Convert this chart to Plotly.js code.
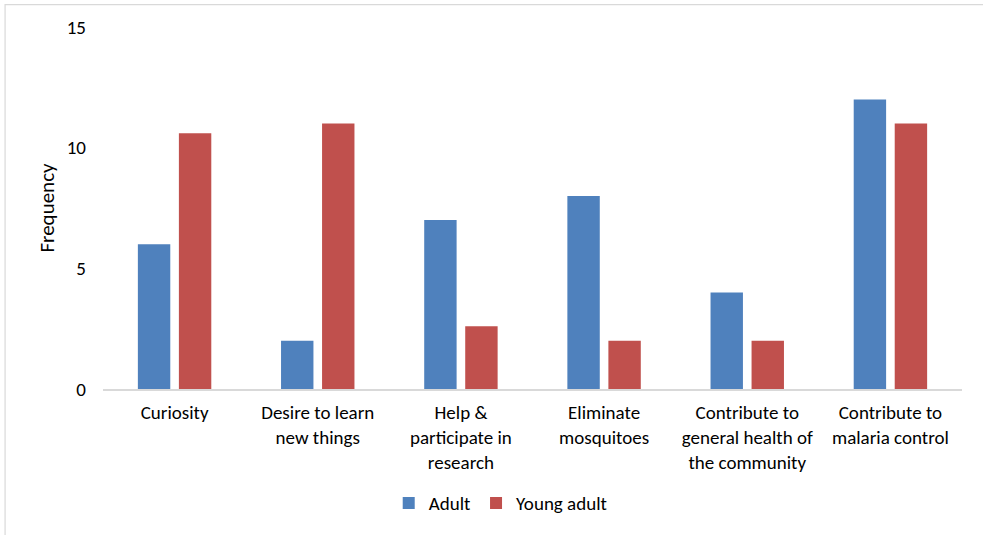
<!DOCTYPE html>
<html>
<head>
<meta charset="utf-8">
<script src="https://cdn.plot.ly/plotly-3.0.1.min.js"></script>
<style>
  html, body { margin: 0; padding: 0; background: #ffffff; }
  #chart { width: 983px; height: 535px; }
</style>
</head>
<body>
<div id="chart"></div>
<script>
// Reasons for taking part, by age group
const categories = [
  "Curiosity",
  "Desire to learn<br>new things",
  "Help &amp;<br>participate in<br>research",
  "Eliminate<br>mosquitoes",
  "Contribute to<br>general health of<br>the community",
  "Contribute to<br>malaria control"
];
const adultValues = [6, 2, 7, 8, 4, 12];
const youngAdultValues = [10.6, 11, 2.6, 2, 2, 11];
const yTickValues = [0, 5, 10, 15];

const FONT = "Calibri, Carlito, 'Liberation Sans', Arial, sans-serif";
const FS = 19;

const traces = [
  {
    type: "bar",
    name: "Adult",
    x: categories,
    y: adultValues,
    marker: { color: "#4f81bd", line: { color: "#4f81bd", width: 0 } },
    hoverinfo: "x+y+name"
  },
  {
    type: "bar",
    name: "Young adult",
    x: categories,
    y: youngAdultValues,
    marker: { color: "#c0504d", line: { color: "#c0504d", width: 0 } },
    hoverinfo: "x+y+name"
  }
];

const layout = {
  width: 983,
  height: 535,
  margin: { l: 103, r: 21, t: 27, b: 146 },
  paper_bgcolor: "#ffffff",
  plot_bgcolor: "#ffffff",
  barmode: "group",
  bargap: 0.427,
  bargroupgap: 0.21,
  font: { family: FONT, size: FS, color: "#000000" },
  showlegend: true,
  legend: {
    orientation: "h",
    x: 0.463,
    xanchor: "center",
    y: -0.315,
    yanchor: "middle",
    font: { family: FONT, size: FS, color: "#000000" },
    itemwidth: 30,
    traceorder: "normal"
  },
  xaxis: {
    type: "category",
    showgrid: false,
    zeroline: false,
    showline: true,
    linecolor: "#d9d9d9",
    linewidth: 1.5,
    ticks: "",
    tickangle: 0,
    ticklabelstandoff: 6,
    tickfont: { family: FONT, size: FS, color: "#000000" },
    fixedrange: true
  },
  yaxis: {
    range: [0, 15],
    tickvals: yTickValues,
    ticktext: yTickValues.map(String),
    showgrid: false,
    zeroline: false,
    showline: false,
    ticks: "",
    ticklabelstandoff: 16,
    tickfont: { family: FONT, size: FS, color: "#000000" },
    title: { text: "Frequency", font: { family: FONT, size: 21, color: "#000000" }, standoff: 6 },
    fixedrange: true
  },
  shapes: [
    {
      type: "rect",
      xref: "paper",
      yref: "paper",
      x0: -0.114,
      x1: 1.2,
      y0: -0.6,
      y1: 1.062,
      line: { color: "#d9d9d9", width: 1.2 },
      fillcolor: "rgba(0,0,0,0)",
      layer: "below"
    }
  ]
};

Plotly.newPlot("chart", traces, layout, { displayModeBar: false, staticPlot: true });
</script>
</body>
</html>
